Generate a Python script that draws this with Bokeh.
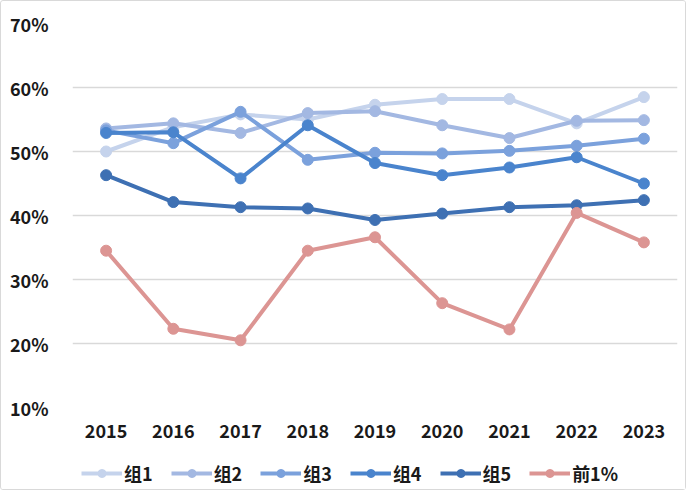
from bokeh.plotting import figure
from bokeh.layouts import column
from bokeh.models import Legend, LegendItem, PrintfTickFormatter
from bokeh.embed import file_html
from bokeh.resources import INLINE

years = ["2015", "2016", "2017", "2018", "2019", "2020", "2021", "2022", "2023"]
g1 = [50.0, 53.8, 55.8, 55.0, 57.3, 58.2, 58.2, 54.4, 58.5]
g2 = [53.6, 54.4, 52.9, 56.0, 56.3, 54.1, 52.1, 54.8, 54.9]
g3 = [53.3, 51.3, 56.2, 48.7, 49.8, 49.7, 50.1, 50.9, 52.0]
g4 = [52.9, 53.0, 45.8, 54.1, 48.2, 46.3, 47.5, 49.1, 45.0]
g5 = [46.3, 42.1, 41.3, 41.1, 39.3, 40.3, 41.3, 41.6, 42.4]
top1 = [34.5, 22.3, 20.5, 34.5, 36.6, 26.3, 22.2, 40.4, 35.8]

names = ["组1", "组2", "组3", "组4", "组5", "前1%"]
series = [g1, g2, g3, g4, g5, top1]
colors = ["#c5d3ec", "#a3b8e2", "#7ba1dc", "#4a84cd", "#3e70b3", "#dc9593"]

FONT = "Noto Sans CJK SC"
TXT = "#1a1a1a"

p = figure(x_range=years, y_range=(10, 70), width=684, height=450,
           output_backend="svg", toolbar_location=None,
           min_border_left=71, min_border_right=8, min_border_top=22, min_border_bottom=44)
p.x_range.range_padding = 0
p.outline_line_color = None
p.background_fill_color = "white"
p.border_fill_color = "white"

p.xgrid.grid_line_color = None
p.ygrid.grid_line_color = "#d9d9d9"
p.ygrid.grid_line_width = 1.5

p.yaxis.ticker = [10, 20, 30, 40, 50, 60, 70]
p.yaxis.formatter = PrintfTickFormatter(format="%d%%")
for ax in (p.xaxis, p.yaxis):
    ax.axis_line_color = None
    ax.major_tick_line_color = None
    ax.minor_tick_line_color = None
    ax.major_label_text_font = FONT
    ax.major_label_text_font_style = "bold"
    ax.major_label_text_font_size = "18px"
    ax.major_label_text_color = TXT
p.yaxis.major_label_standoff = 18
p.xaxis.major_label_standoff = 10

for vals, col in zip(series, colors):
    p.line(years, vals, line_color=col, line_width=4)
    p.scatter(years, vals, size=11, fill_color=col, line_color=col)

# legend-only strip below the chart (its frame is aligned with the chart's frame)
lf = figure(width=684, height=38, x_range=(0, 1), y_range=(0, 1),
            output_backend="svg", toolbar_location=None,
            min_border=0, min_border_left=0, min_border_right=0,
            min_border_top=0, min_border_bottom=0)
lf.axis.visible = False
lf.grid.visible = False
lf.outline_line_color = None
lf.border_fill_color = "white"

items = []
for name, col in zip(names, colors):
    ln = lf.line([5, 6], [5, 6], line_color=col, line_width=4)
    sc = lf.scatter([5.5], [5.5], size=9, fill_color=col, line_color=col)
    items.append(LegendItem(label=name, renderers=[ln, sc]))

legend = Legend(items=items, orientation="horizontal", location=(9, 3),
                label_text_font=FONT, label_text_font_style="bold",
                label_text_font_size="18px", label_text_color=TXT,
                glyph_width=41, label_standoff=2, spacing=18,
                border_line_color=None, background_fill_alpha=0,
                padding=2, margin=0)
lf.add_layout(legend, "center")

layout = column(p, lf, spacing=0)
layout.styles = {"border": "1px solid #d9d9d9", "border-radius": "3px"}

open("out.html", "w").write(file_html(layout, INLINE))
